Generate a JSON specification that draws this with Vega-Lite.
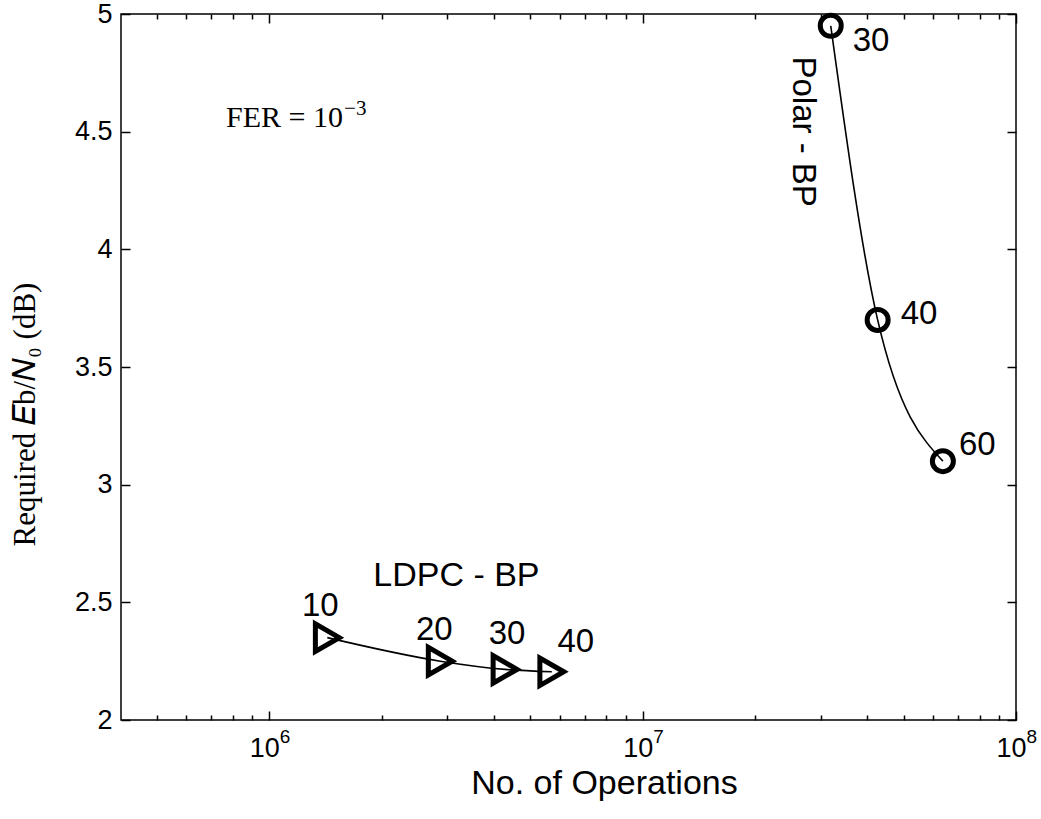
{
  "$schema": "https://vega.github.io/schema/vega-lite/v6.json",
  "width": 895,
  "height": 706,
  "autosize": {"type": "none"},
  "padding": {"left": 121, "top": 14, "right": 25, "bottom": 99},
  "background": "white",
  "config": {
    "view": {"stroke": "black", "strokeWidth": 1.5},
    "axis": {"grid": false, "domain": false, "tickColor": "black", "tickWidth": 1.5, "labelColor": "black", "titleColor": "black"}
  },
  "data": {
    "values": [
      {"series": "Polar - BP", "ops": 31900000, "ebn0": 4.95, "iter": "30"},
      {"series": "Polar - BP", "ops": 42600000, "ebn0": 3.70, "iter": "40"},
      {"series": "Polar - BP", "ops": 63700000, "ebn0": 3.10, "iter": "60"},
      {"series": "LDPC - BP", "ops": 1430000, "ebn0": 2.35, "iter": "10"},
      {"series": "LDPC - BP", "ops": 2870000, "ebn0": 2.25, "iter": "20"},
      {"series": "LDPC - BP", "ops": 4280000, "ebn0": 2.215, "iter": "30"},
      {"series": "LDPC - BP", "ops": 5710000, "ebn0": 2.205, "iter": "40"}
    ]
  },
  "resolve": {"axis": {"x": "independent", "y": "independent"}},
  "layer": [
    {
      "mark": {"type": "line", "interpolate": "monotone", "color": "black", "strokeWidth": 1.6},
      "encoding": {
        "x": {"field": "ops", "type": "quantitative",
          "scale": {"type": "log", "domain": [400600, 100000000], "nice": false},
          "axis": {"orient": "bottom", "values": [1000000, 10000000, 100000000], "ticks": false,
            "labelExpr": "'10'", "labelAlign": "center", "labelOffset": -5,
            "labelFont": "Liberation Sans", "labelFontSize": 27, "labelBaseline": "alphabetic", "labelPadding": 36,
            "labelFlush": false, "labelOverlap": false,
            "title": "No. of Operations", "titleFont": "Liberation Sans", "titleFontSize": 34, "titleFontWeight": "normal",
            "titleX": 483, "titleY": 73, "titleBaseline": "alphabetic", "titleAlign": "center"}},
        "y": {"field": "ebn0", "type": "quantitative",
          "scale": {"domain": [2, 5], "nice": false, "zero": false},
          "axis": {"orient": "left", "values": [2, 2.5, 3, 3.5, 4, 4.5, 5], "ticks": false,
            "labelExpr": "datum.value + ''", "labelFont": "Liberation Sans", "labelFontSize": 27, "labelPadding": 9,
            "labelFlush": false, "labelOverlap": false,
            "title": "Required 𝐸b/𝑁₀ (dB)", "titleFont": "Liberation Serif", "titleFontSize": 31, "titleFontWeight": "normal",
            "titleAngle": 270, "titleX": -96, "titleY": 400, "titleBaseline": "middle", "titleAlign": "center"}},
        "detail": {"field": "series", "type": "nominal"}
      }
    },
    {
      "mark": {"type": "point", "filled": false, "color": "black", "strokeWidth": 5, "opacity": 1},
      "encoding": {
        "x": {"field": "ops", "type": "quantitative",
          "axis": {"orient": "top", "values": [1000000, 10000000, 100000000], "tickSize": -9, "labels": false, "title": null}},
        "y": {"field": "ebn0", "type": "quantitative",
          "axis": {"orient": "right", "values": [2, 2.5, 3, 3.5, 4, 4.5, 5], "tickSize": -9, "labels": false, "title": null}},
        "shape": {"field": "series", "type": "nominal", "scale": {"domain": ["Polar - BP", "LDPC - BP"], "range": ["circle", "triangle-right"]}, "legend": null},
        "size": {"field": "series", "type": "nominal", "scale": {"domain": ["Polar - BP", "LDPC - BP"], "range": [441, 760]}, "legend": null}
      }
    },
    {
      "transform": [{"filter": "datum.series == 'Polar - BP' && datum.iter == '30'"}],
      "mark": {"type": "text", "font": "Liberation Sans", "fontSize": 33, "align": "left", "baseline": "alphabetic", "dx": 22, "dy": 25, "color": "black"},
      "encoding": {
        "x": {"field": "ops", "type": "quantitative",
          "axis": {"orient": "bottom", "values": [1000000, 10000000, 100000000], "tickSize": -9, "labels": false, "title": null}},
        "y": {"field": "ebn0", "type": "quantitative",
          "axis": {"orient": "left", "values": [2, 2.5, 3, 3.5, 4, 4.5, 5], "tickSize": -9, "labels": false, "title": null}},
        "text": {"field": "iter"}
      }
    },
    {
      "transform": [{"filter": "datum.series == 'Polar - BP' && datum.iter == '40'"}],
      "mark": {"type": "text", "font": "Liberation Sans", "fontSize": 33, "align": "left", "baseline": "alphabetic", "dx": 23, "dy": 4, "color": "black"},
      "encoding": {
        "x": {"field": "ops", "type": "quantitative",
          "axis": {"orient": "bottom", "values": [500000, 600000, 700000, 800000, 900000, 2000000, 3000000, 4000000, 5000000, 6000000, 7000000, 8000000, 9000000, 20000000, 30000000, 40000000, 50000000, 60000000, 70000000, 80000000, 90000000], "tickSize": -5, "labels": false, "title": null}},
        "y": {"field": "ebn0", "type": "quantitative", "axis": null},
        "text": {"field": "iter"}
      }
    },
    {
      "transform": [{"filter": "datum.series == 'Polar - BP' && datum.iter == '60'"}],
      "mark": {"type": "text", "font": "Liberation Sans", "fontSize": 33, "align": "left", "baseline": "alphabetic", "dx": 16, "dy": -6, "color": "black"},
      "encoding": {
        "x": {"field": "ops", "type": "quantitative",
          "axis": {"orient": "top", "values": [500000, 600000, 700000, 800000, 900000, 2000000, 3000000, 4000000, 5000000, 6000000, 7000000, 8000000, 9000000, 20000000, 30000000, 40000000, 50000000, 60000000, 70000000, 80000000, 90000000], "tickSize": -5, "labels": false, "title": null}},
        "y": {"field": "ebn0", "type": "quantitative", "axis": null},
        "text": {"field": "iter"}
      }
    },
    {
      "transform": [{"filter": "datum.series == 'LDPC - BP' && datum.iter == '10'"}],
      "mark": {"type": "text", "font": "Liberation Sans", "fontSize": 33, "align": "center", "baseline": "alphabetic", "dx": -7, "dy": -22, "color": "black"},
      "encoding": {
        "x": {"field": "ops", "type": "quantitative",
          "axis": {"orient": "bottom", "values": [1000000, 10000000, 100000000], "ticks": false,
            "labelExpr": "datum.value < 5000000 ? '6' : datum.value < 50000000 ? '7' : '8'", "labelAlign": "left", "labelOffset": 10,
            "labelFont": "Liberation Sans", "labelFontSize": 19, "labelBaseline": "alphabetic", "labelPadding": 22,
            "labelFlush": false, "labelOverlap": false, "title": null}},
        "y": {"field": "ebn0", "type": "quantitative", "axis": null},
        "text": {"field": "iter"}
      }
    },
    {
      "transform": [{"filter": "datum.series == 'LDPC - BP' && datum.iter == '20'"}],
      "mark": {"type": "text", "font": "Liberation Sans", "fontSize": 33, "align": "center", "baseline": "alphabetic", "dx": -6, "dy": -21, "color": "black"},
      "encoding": {
        "x": {"field": "ops", "type": "quantitative", "axis": null},
        "y": {"field": "ebn0", "type": "quantitative", "axis": null},
        "text": {"field": "iter"}
      }
    },
    {
      "transform": [{"filter": "datum.series == 'LDPC - BP' && datum.iter == '30'"}],
      "mark": {"type": "text", "font": "Liberation Sans", "fontSize": 33, "align": "center", "baseline": "alphabetic", "dx": 2, "dy": -25, "color": "black"},
      "encoding": {
        "x": {"field": "ops", "type": "quantitative", "axis": null},
        "y": {"field": "ebn0", "type": "quantitative", "axis": null},
        "text": {"field": "iter"}
      }
    },
    {
      "transform": [{"filter": "datum.series == 'LDPC - BP' && datum.iter == '40'"}],
      "mark": {"type": "text", "font": "Liberation Sans", "fontSize": 33, "align": "center", "baseline": "alphabetic", "dx": 24, "dy": -20, "color": "black"},
      "encoding": {
        "x": {"field": "ops", "type": "quantitative", "axis": null},
        "y": {"field": "ebn0", "type": "quantitative", "axis": null},
        "text": {"field": "iter"}
      }
    },
    {
      "data": {"values": [{}]},
      "mark": {"type": "text", "font": "Liberation Sans", "fontSize": 34, "align": "center", "baseline": "alphabetic", "color": "black"},
      "encoding": {
        "x": {"datum": 3170000, "type": "quantitative", "axis": null},
        "y": {"datum": 2.57, "type": "quantitative", "axis": null},
        "text": {"value": "LDPC - BP"}
      }
    },
    {
      "data": {"values": [{}]},
      "mark": {"type": "text", "font": "Liberation Sans", "fontSize": 33, "align": "center", "baseline": "middle", "angle": 90, "color": "black"},
      "encoding": {
        "x": {"datum": 26900000, "type": "quantitative", "axis": null},
        "y": {"datum": 4.5, "type": "quantitative", "axis": null},
        "text": {"value": "Polar - BP"}
      }
    },
    {
      "data": {"values": [{}]},
      "mark": {"type": "text", "font": "Liberation Serif", "fontSize": 30, "align": "left", "baseline": "alphabetic", "color": "black"},
      "encoding": {
        "x": {"datum": 766000, "type": "quantitative", "axis": null},
        "y": {"datum": 4.52, "type": "quantitative", "axis": null},
        "text": {"value": "FER = 10"}
      }
    },
    {
      "data": {"values": [{}]},
      "mark": {"type": "text", "font": "Liberation Serif", "fontSize": 21, "align": "left", "baseline": "alphabetic", "dx": 118, "dy": -12, "color": "black"},
      "encoding": {
        "x": {"datum": 766000, "type": "quantitative", "axis": null},
        "y": {"datum": 4.52, "type": "quantitative", "axis": null},
        "text": {"value": "−3"}
      }
    }
  ]
}
